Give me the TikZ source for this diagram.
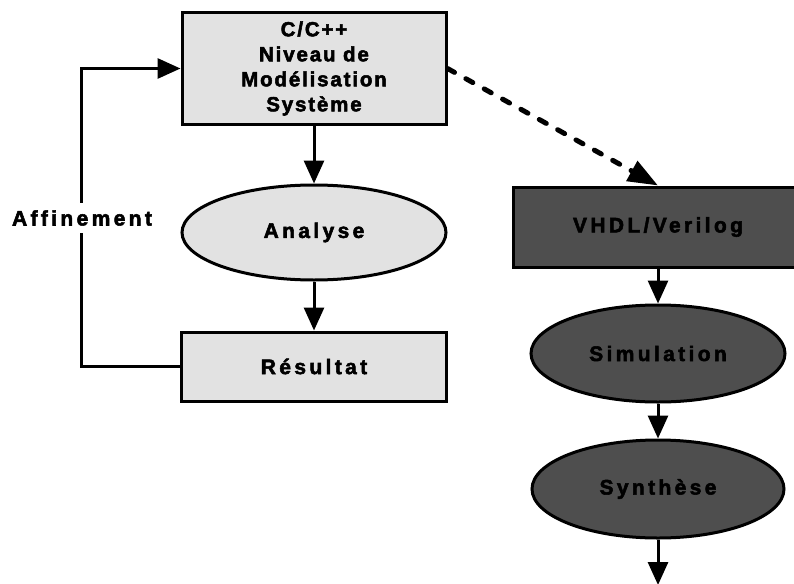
\documentclass[tikz,border=0pt]{standalone}
\usepackage{fontspec}
\setmainfont{Liberation Sans}
\newfontfamily\lblfont{Liberation Sans}[LetterSpace=16,FakeBold=2.5]
\newfontfamily\headfont{Liberation Sans}[LetterSpace=9,FakeBold=2.5]
\usetikzlibrary{arrows.meta,shapes.geometric}
\definecolor{lightfill}{HTML}{E2E2E2}
\definecolor{darkfill}{HTML}{4E4E4E}
\tikzset{
  lbl/.style={font=\lblfont\bfseries\fontsize{21}{25}\selectfont, text=black},
  headlbl/.style={font=\headfont\bfseries\fontsize{20.5}{25}\selectfont, text=black},
  lightbox/.style={draw=black, line width=3pt, fill=lightfill, rectangle, inner sep=0pt, lbl, align=center},
  lightoval/.style={draw=black, line width=3pt, fill=lightfill, ellipse, inner sep=0pt, lbl},
  darkbox/.style={draw=black, line width=3pt, fill=darkfill, rectangle, inner sep=0pt, lbl},
  darkoval/.style={draw=black, line width=3pt, fill=darkfill, ellipse, inner sep=0pt, lbl},
  flow/.style={line width=3pt, -{Triangle[length=23pt,width=20pt]}},
  dflow/.style={line width=5pt, line cap=round, dash pattern=on 8pt off 13pt, -{Triangle[length=30pt,width=22pt]}},
}
\begin{document}
\begin{tikzpicture}[x=1pt,y=-1pt]
\useasboundingbox (0,0) rectangle (794,583);
\fill[white] (0,0) rectangle (794,583);

% left column: system-level modelling loop
\node[lightbox, headlbl, minimum width=264pt, minimum height=111pt] (sys) at (314,68.5)
  {C/C++\\Niveau de\\Modélisation\\Système};
\node[lightoval, minimum width=264pt, minimum height=95pt] (ana) at (314,232.5) {Analyse};
\node[lightbox, minimum width=265pt, minimum height=69pt] (res) at (314,366.5) {Résultat};

% right column: HDL flow
\node[darkbox, minimum width=290pt, minimum height=80pt] (hdl) at (658,227) {VHDL/Verilog};
\node[darkoval, minimum width=254pt, minimum height=97pt] (sim) at (658,353.5) {Simulation};
\node[darkoval, minimum width=252pt, minimum height=98pt] (syn) at (658,489) {Synthèse};
\coordinate (out) at (658,585);

\draw[flow] (sys.south) -- (ana.north);
\draw[flow] (ana.south) -- (res.north);
\draw[flow] (res.west) -- ++(-99,0) |- (sys.west);
\node[lbl, fill=white, inner xsep=2pt, inner ysep=7pt] (aff) at (82,218) {Affinement};

\draw[dflow] (sys.east) -- (hdl.north);
\draw[flow] (hdl.south) -- (sim.north);
\draw[flow] (sim.south) -- (syn.north);
\draw[flow] (syn.south) -- (out);
\end{tikzpicture}
\end{document}
